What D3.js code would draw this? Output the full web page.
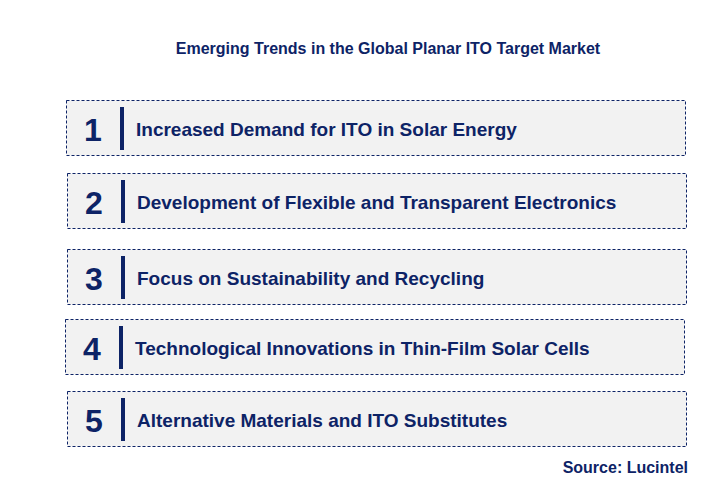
<!DOCTYPE html>
<html>
<head>
<meta charset="utf-8">
<script src="https://cdn.jsdelivr.net/npm/d3@7"></script>
<style>
body { margin: 0; background: #fff; }
</style>
</head>
<body>
<svg width="712" height="501"></svg>
<script>
var title = "Emerging Trends in the Global Planar ITO Target Market";
var source = "Source: Lucintel";
var numbers = ["1", "2", "3", "4", "5"];
var trends = [
    "Increased Demand for ITO in Solar Energy",
    "Development of Flexible and Transparent Electronics",
    "Focus on Sustainability and Recycling",
    "Technological Innovations in Thin-Film Solar Cells",
    "Alternative Materials and ITO Substitutes"
];
// small horizontal offsets of each box as seen in the picture
var shifts = [0, 1, 1, -1, 1];
var tops = [100, 173, 249, 319, 391];

var navy = "#0d2366";
var svg = d3.select("svg");
var font = "Liberation Sans, Arial, sans-serif";

svg.append("text")
    .attr("x", 388).attr("y", 54)
    .attr("text-anchor", "middle")
    .attr("font-family", font).attr("font-size", 16).attr("font-weight", "bold")
    .attr("fill", navy)
    .text(title);

var rows = svg.selectAll("g.row").data(trends).enter().append("g")
    .attr("class", "row")
    .attr("transform", function (d, i) { return "translate(" + (66 + shifts[i]) + "," + tops[i] + ")"; });

rows.append("rect")
    .attr("x", 0.5).attr("y", 0.5)
    .attr("width", 619).attr("height", 55)
    .attr("fill", "#f2f2f2")
    .attr("stroke", navy).attr("stroke-width", 1)
    .attr("stroke-dasharray", "3,2");

rows.append("text")
    .attr("x", 27).attr("y", 41)
    .attr("text-anchor", "middle")
    .attr("font-family", font).attr("font-size", 32).attr("font-weight", "bold")
    .attr("fill", navy)
    .text(function (d, i) { return numbers[i]; });

rows.append("rect")
    .attr("x", 54).attr("y", 7)
    .attr("width", 4).attr("height", 43)
    .attr("fill", navy);

rows.append("text")
    .attr("x", 70).attr("y", 36)
    .attr("font-family", font).attr("font-size", 19).attr("font-weight", "bold")
    .attr("fill", navy)
    .text(function (d) { return d; });

svg.append("text")
    .attr("x", 688).attr("y", 473)
    .attr("text-anchor", "end")
    .attr("font-family", font).attr("font-size", 16).attr("font-weight", "bold")
    .attr("fill", navy)
    .text(source);
</script>
</body>
</html>
